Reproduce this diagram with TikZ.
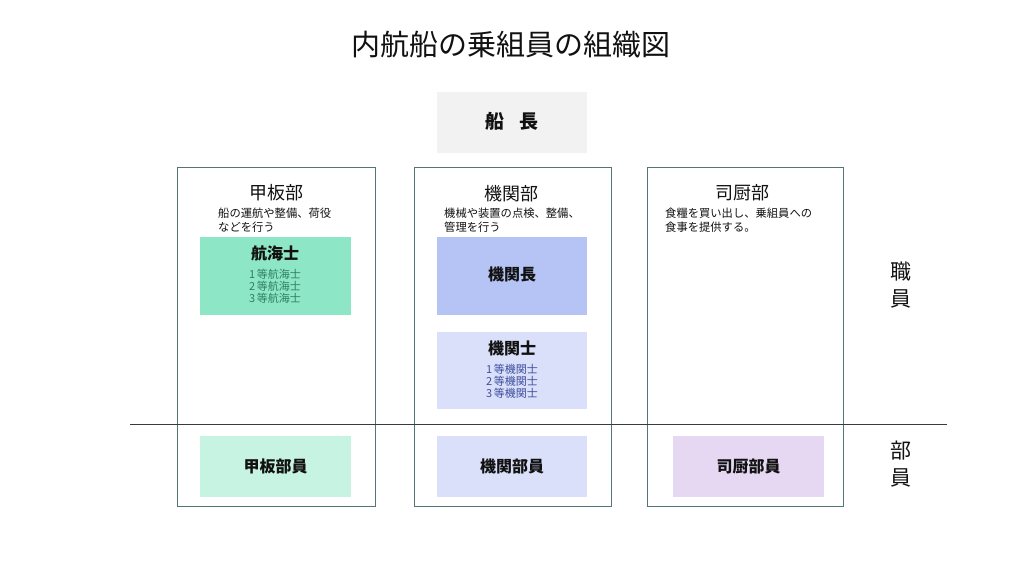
\documentclass[tikz,border=0pt]{standalone}
\usepackage{fontspec}
\setmainfont{Noto Sans CJK JP}
\definecolor{frame}{HTML}{557575}
\definecolor{sep}{HTML}{3A3A3A}
\definecolor{capt}{HTML}{F2F2F2}
\definecolor{navi}{HTML}{8DE6C6}
\definecolor{navitxt}{HTML}{2F7F5F}
\definecolor{chief}{HTML}{B5C4F4}
\definecolor{engr}{HTML}{DAE0FA}
\definecolor{engrtxt}{HTML}{3E4E9E}
\definecolor{deck}{HTML}{C7F3E2}
\definecolor{galley}{HTML}{E6D8F3}
\definecolor{ink}{HTML}{111111}
\tikzset{
  colbox/.style={draw=frame, line width=0.9pt, fill=white, minimum width=#1, minimum height=339pt, inner sep=0pt},
  fillbox/.style={fill=#1, draw=none, minimum width=151pt, inner sep=0pt},
  head/.style={font=\fontsize{18}{20}\selectfont, text=ink},
  desc/.style={font=\fontsize{11.3}{14.2}\selectfont, text=ink, align=left, anchor=west, inner sep=0pt},
  btitle/.style={font=\fontsize{16}{18}\selectfont\bfseries, text=ink, inner sep=0pt},
  sublines/.style={font=\fontsize{11}{12.2}\selectfont, align=center, inner sep=0pt},
  side/.style={font=\fontsize{21}{27}\selectfont, text=ink, align=center, inner sep=0pt},
}
\begin{document}
\begin{tikzpicture}[x=1pt,y=-1pt]
\useasboundingbox (0,0) rectangle (1024,576);
% title
\node[font=\fontsize{29}{32}\selectfont, text=ink, inner sep=0pt] (title) at (511,45) {内航船の乗組員の組織図};
% captain
\node[fillbox=capt, minimum width=150pt, minimum height=61pt] (captain) at (512,122.5) {};
\node[font=\fontsize{19}{21}\selectfont\bfseries, text=ink, inner sep=0pt] (captaintxt) at (512,121) {船\hspace{0.75em}長};
% column frames
\node[colbox=198pt] (colA) at (276,336.5) {};
\node[colbox=197pt] (colB) at (512.5,336.5) {};
\node[colbox=196pt] (colC) at (745,336.5) {};
% separator line
\coordinate (sepL) at (130,424);
\coordinate (sepR) at (947,424);
\draw[sep, line width=0.9pt] (sepL) -- (sepR);
% headers
\node[head] (hA) at (276,193) {甲板部};
\node[head] (hB) at (511,194) {機関部};
\node[head] (hC) at (742,193) {司厨部};
% descriptions
\node[desc] (dA) at (218,220) {船の運航や整備、荷役\\などを行う};
\node[desc] (dB) at (444,220) {機械や装置の点検、整備、\\管理を行う};
\node[desc] (dC) at (665,220) {食糧を買い出し、乗組員への\\食事を提供する。};
% navigators
\node[fillbox=navi, minimum height=78pt] (navi) at (275,276) {};
\node[btitle] (navititle) at (275,253) {航海士};
\node[sublines, text=navitxt] (navisub) at (275,286.5) {1\,等航海士\\2\,等航海士\\3\,等航海士};
% chief engineer
\node[fillbox=chief, minimum width=150pt, minimum height=78pt] (chiefbox) at (512,276) {};
\node[btitle] (chieftxt) at (512,274) {機関長};
% engineers
\node[fillbox=engr, minimum width=150pt, minimum height=77pt] (engrbox) at (512,370) {};
\node[btitle] (engrtitle) at (512,348) {機関士};
\node[sublines, text=engrtxt] (engrsub) at (512,381) {1\,等機関士\\2\,等機関士\\3\,等機関士};
% ratings
\node[fillbox=deck, minimum height=61pt] (deckbox) at (275.5,466) {};
\node[btitle] (decktxt) at (275.5,466) {甲板部員};
\node[fillbox=engr, minimum width=150pt, minimum height=61pt] (engbox) at (512,466) {};
\node[btitle] (engtxt) at (512,466) {機関部員};
\node[fillbox=galley, minimum height=61pt] (galleybox) at (748.5,466) {};
\node[btitle] (galleytxt) at (748.5,466) {司厨部員};
% side labels
\node[side] (officers) at (901,285) {職\\員};
\node[side] (ratings) at (901,464) {部\\員};
\end{tikzpicture}
\end{document}
